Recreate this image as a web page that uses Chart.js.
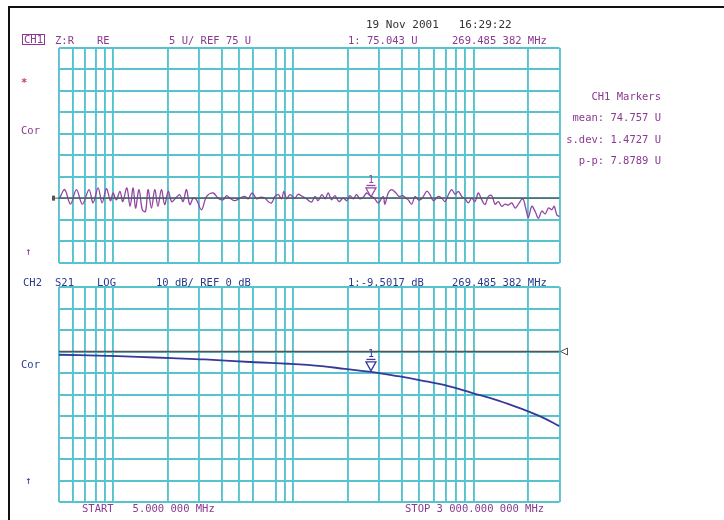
<!DOCTYPE html>
<html>
<head>
<meta charset="utf-8">
<script src="https://cdn.jsdelivr.net/npm/chart.js@4.4.1/dist/chart.umd.min.js"></script>
<style>
  body{margin:0;background:#fff;}
  #wrap{position:relative;width:724px;height:520px;overflow:hidden;background:#fff;}
  canvas{position:absolute;left:0;top:0;}
  .t{position:absolute;font-family:"DejaVu Sans Mono",monospace;font-size:10.5px;line-height:12px;white-space:pre;}
  .p{color:#8a3a90;}
  .b{color:#2c3a8c;}
  .g{color:#333;}
  .frameL{position:absolute;left:8px;top:6px;width:2px;height:520px;background:#111;}
  .frameT{position:absolute;left:8px;top:6px;width:720px;height:1.5px;background:#111;}
</style>
</head>
<body>
<div id="wrap">
  <div class="frameL"></div><div class="frameT"></div>
  <canvas id="ch1" width="724" height="520"></canvas>
  <canvas id="ch2" width="724" height="520"></canvas>

  <div class="t g" style="left:366px;top:19px;font-size:11px;">19 Nov 2001   16:29:22</div>

  <div class="t p" style="left:22px;top:34px;border:1px solid #8a3a90;padding:0 1px;line-height:9px;height:9px;">CH1</div>
  <div class="t p" style="left:55px;top:34px;">Z:R</div>
  <div class="t p" style="left:97px;top:34px;">RE</div>
  <div class="t p" style="left:169px;top:34px;">5 U/ REF 75 U</div>
  <div class="t p" style="left:348px;top:34px;">1: 75.043 U</div>
  <div class="t p" style="left:452px;top:34px;">269.485 382 MHz</div>

  <div class="t" style="left:21px;top:76px;color:#c2406e;font-weight:bold;">*</div>
  <div class="t p" style="left:21px;top:124px;">Cor</div>
  <div class="t p" style="left:25px;top:245px;">↑</div>

  <div class="t p" style="right:63px;top:90px;">CH1 Markers</div>
  <div class="t p" style="right:63px;top:111px;">mean: 74.757 U</div>
  <div class="t p" style="right:63px;top:133px;">s.dev: 1.4727 U</div>
  <div class="t p" style="right:63px;top:154px;">p-p: 7.8789 U</div>

  <div class="t b" style="left:23px;top:276px;">CH2</div>
  <div class="t b" style="left:55px;top:276px;">S21</div>
  <div class="t b" style="left:97px;top:276px;">LOG</div>
  <div class="t b" style="left:156px;top:276px;">10 dB/ REF 0 dB</div>
  <div class="t b" style="left:348px;top:276px;">1:-9.5017 dB</div>
  <div class="t b" style="left:452px;top:276px;">269.485 382 MHz</div>

  <div class="t b" style="left:21px;top:358px;">Cor</div>
  <div class="t b" style="left:25px;top:474px;">↑</div>

  <div class="t p" style="left:82px;top:502px;">START   5.000 000 MHz</div>
  <div class="t p" style="left:405px;top:502px;">STOP 3 000.000 000 MHz</div>
</div>

<script>
// sweep: 5 MHz .. 3000 MHz, log
const startMHz = 5, stopMHz = 3000;
const gridFreqs = [5,6,7,8,9,10,20,30,40,50,60,80,90,100,200,300,400,500,600,700,800,900,1000,2000,3000];

// CH1 Z:R real part (U)
const ch1Freq = [5.04,5.38,5.79,6.25,6.74,7.34,7.73,8.24,8.67,9.17,9.65,9.98,10.4,10.9,11.3,11.9,12.4,12.9,13.3,13.9,
  14.5,15.1,15.6,16.3,17.0,17.7,18.5,19.3,20.2,21.1,22.2,23.4,24.4,25.5,26.6,27.8,29.0,30.9,33.0,35.9,38.2,
  40.7,42.6,44.4,47.3,50.4,53.8,56.1,59.0,62.5,65.2,69.5,72.5,75.7,79.0,82.4,86.0,88.6,91.7,95.7,102,106,112,118,
  126,132,137,144,150,156,163,170,179,189,198,206,215,224,234,244,255,266,281,296,315,
  322,336,351,371,387,404,422,434,454,473,494,516,550,573,598,638,666,695,725,757,790,824,860,897,936,977,
  1019,1063,1111,1159,1209,1262,1317,1373,1435,1496,1561,1631,1701,1774,1877,1957,2016,2106,2197,2292,2394,
  2497,2605,2721,2802,2900,3000];
const ch1Val = [75.0,77.0,73.6,77.0,73.6,77.0,73.9,77.4,73.9,77.2,74.4,76.2,74.6,76.6,74.2,77.4,73.1,77.4,72.7,77.0,
  72.3,71.9,77.0,72.7,77.0,73.1,77.0,73.5,76.6,74.2,75.0,75.8,74.2,77.0,73.5,75.0,74.6,72.3,75.4,76.2,75.0,
  74.6,75.6,75.0,74.4,75.0,75.4,74.85,76.2,74.85,75.2,75.0,74.2,73.9,75.4,75.8,74.85,76.6,74.85,75.8,75.0,75.9,75.4,74.85,
  74.1,75.4,74.4,75.8,74.85,76.2,74.6,75.6,74.2,75.0,74.4,75.6,74.85,75.8,74.85,75.2,76.2,75.6,75.0,73.9,75.4,
  73.6,76.2,77.0,76.2,75.4,75.6,75.0,74.6,73.6,75.4,74.6,74.85,76.6,75.8,74.4,75.4,75.0,74.2,75.8,77.0,75.9,76.6,75.4,74.85,73.9,75.0,
  74.2,76.2,74.6,73.5,75.4,75.6,73.6,74.2,73.1,73.6,73.4,73.9,72.7,73.6,74.85,72.3,70.5,73.1,71.9,70.3,72.0,
  71.3,72.7,72.3,73.1,71.1,70.7];

// CH2 S21 log mag (dB)
const ch2Freq = [5,8.24,13.7,21.1,32.2,61.1,93.6,144,193,269.5,382,516,725,977,1373,1853,2394,3000];
const ch2Val = [-1.5,-1.9,-2.5,-3.1,-3.7,-5.0,-5.7,-6.8,-8.1,-9.5,-11.5,-13.5,-16.1,-19.2,-22.8,-26.7,-30.5,-34.7];

// markers / reference
const markerFreq = 269.485382;
const ch1Marker = 75.043, ch2Marker = -9.5017;
const ch1Ref = 75, ch2Ref = 0;

const gridCol = '#56c3ce';

function pts(fs, vs){ return fs.map((f,i)=>({x:f,y:vs[i]})); }

// marker triangle + ref arrow
const vnaPlugin = {
  id:'vna',
  afterDatasetsDraw(chart){
    const o = chart.options.plugins.vna, ctx = chart.ctx;
    const xs = chart.scales.x, ys = chart.scales.y;
    const x = xs.getPixelForValue(o.mFreq), y = ys.getPixelForValue(o.mVal);
    ctx.save();
    ctx.strokeStyle = o.color; ctx.fillStyle = o.color; ctx.lineWidth = 1.3;
    ctx.beginPath();
    ctx.moveTo(x, y-1); ctx.lineTo(x-5, y-10); ctx.lineTo(x+5, y-10); ctx.closePath();
    ctx.stroke();
    ctx.beginPath(); ctx.moveTo(x-4.5, y-12.5); ctx.lineTo(x+4.5, y-12.5); ctx.stroke();
    ctx.font = '10px "DejaVu Sans Mono"'; ctx.textAlign = 'center'; ctx.textBaseline = 'bottom';
    ctx.fillText('1', x, y-13);
    // reference position arrow
    const ry = ys.getPixelForValue(o.ref);
    ctx.strokeStyle = '#555'; ctx.fillStyle = '#555'; ctx.lineWidth = 1;
    ctx.beginPath();
    if(o.refSide==='left'){
      const a = chart.chartArea.left;
      ctx.moveTo(a-7, ry); ctx.lineTo(a, ry); ctx.stroke();
      ctx.fillRect(a-7, ry-2.5, 3, 5);
    } else {
      const a = chart.chartArea.right;
      ctx.moveTo(a+1, ry); ctx.lineTo(a+8, ry-3.5); ctx.lineTo(a+8, ry+3.5); ctx.closePath(); ctx.stroke();
    }
    ctx.restore();
  }
};

function scales(ymin, ymax, ystep){
  return {
    x:{type:'logarithmic',min:startMHz,max:stopMHz,
       afterBuildTicks:s=>{ s.ticks = gridFreqs.map(v=>({value:v})); },
       grid:{color:gridCol,lineWidth:1.9,drawTicks:false},border:{display:false},ticks:{display:false}},
    y:{type:'linear',min:ymin,max:ymax,ticks:{display:false,stepSize:ystep},
       grid:{color:gridCol,lineWidth:1.9,drawTicks:false},border:{display:false}}
  };
}

function makeChart(id, data, col, lw, ref, ymin, ymax, ystep, pad, mVal, refSide, tens){
  return new Chart(document.getElementById(id), {
    type:'line',
    data:{datasets:[
      {data:[{x:startMHz,y:ref},{x:stopMHz,y:ref}],borderColor:'#555',borderWidth:1.3,pointRadius:0},
      {data:data,borderColor:col,borderWidth:lw,pointRadius:0,tension:tens}
    ]},
    options:{
      responsive:false,animation:false,devicePixelRatio:1,
      layout:{padding:pad},
      scales:scales(ymin,ymax,ystep),
      plugins:{legend:{display:false},tooltip:{enabled:false},
        vna:{mFreq:markerFreq,mVal:mVal,color:col,ref:ref,refSide:refSide}}
    },
    plugins:[vnaPlugin]
  });
}

makeChart('ch1', pts(ch1Freq,ch1Val), '#9445a2', 1.3, ch1Ref, 60, 110, 5,
  {left:59,right:164.5,top:48,bottom:257.5}, ch1Marker, 'left', 0.35);
makeChart('ch2', pts(ch2Freq,ch2Val), '#36399a', 1.8, ch2Ref, -70, 30, 10,
  {left:59,right:164.5,top:287,bottom:18}, ch2Marker, 'right', 0.4);
</script>
</body>
</html>
